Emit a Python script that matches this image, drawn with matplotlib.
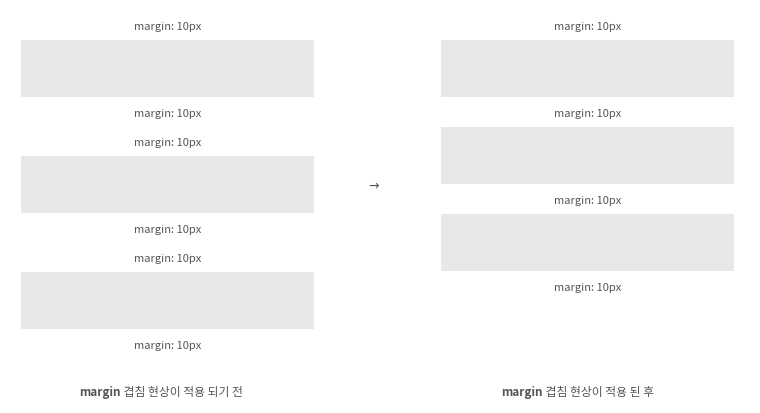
import matplotlib.pyplot as plt
from matplotlib.patches import Rectangle

plt.rcParams['font.family'] = ['Noto Sans CJK KR', 'DejaVu Sans']

W, H = 760, 414
BOX_COLOR = "#e8e8e8"
TEXT_COLOR = "#555555"
LABEL = "margin: 10px"

# layout in pixels (top-down)
box_h = 57
left_x, right_x, box_w = 21, 441, 293
left_tops = [41, 157, 273]
right_tops = [41, 128, 215]
captions = [("margin", " 겹침 현상이 적용 되기 전", 121),
            ("margin", " 겹침 현상이 적용 된 후", 543)]

fig = plt.figure(figsize=(W / 100, H / 100), dpi=100)
ax = fig.add_axes([0, 0, 1, 1])
ax.set_xlim(0, W)
ax.set_ylim(H, 0)
ax.axis("off")


def column(x0, tops, collapse):
    cx = x0 + box_w / 2
    for i, t in enumerate(tops):
        ax.add_patch(Rectangle((x0, t), box_w, box_h, color=BOX_COLOR, lw=0))
        if i == 0 or not collapse:
            ax.text(cx, t - 14, LABEL, ha="center", va="center", fontsize=8, color=TEXT_COLOR)
        ax.text(cx, t + box_h + 16, LABEL, ha="center", va="center", fontsize=8, color=TEXT_COLOR)


column(left_x, left_tops, False)
column(right_x, right_tops, True)

ax.text(374, 186, "→", ha="center", va="center", fontsize=9, color=TEXT_COLOR,
        family="DejaVu Sans")

for bold, rest, split in captions:
    ax.text(split, 393, bold, ha="right", va="center", fontsize=8.5,
            fontweight="bold", color=TEXT_COLOR)
    ax.text(split, 393, rest, ha="left", va="center", fontsize=8.5, color=TEXT_COLOR)

fig.savefig("out.png", dpi=100, facecolor="white")
